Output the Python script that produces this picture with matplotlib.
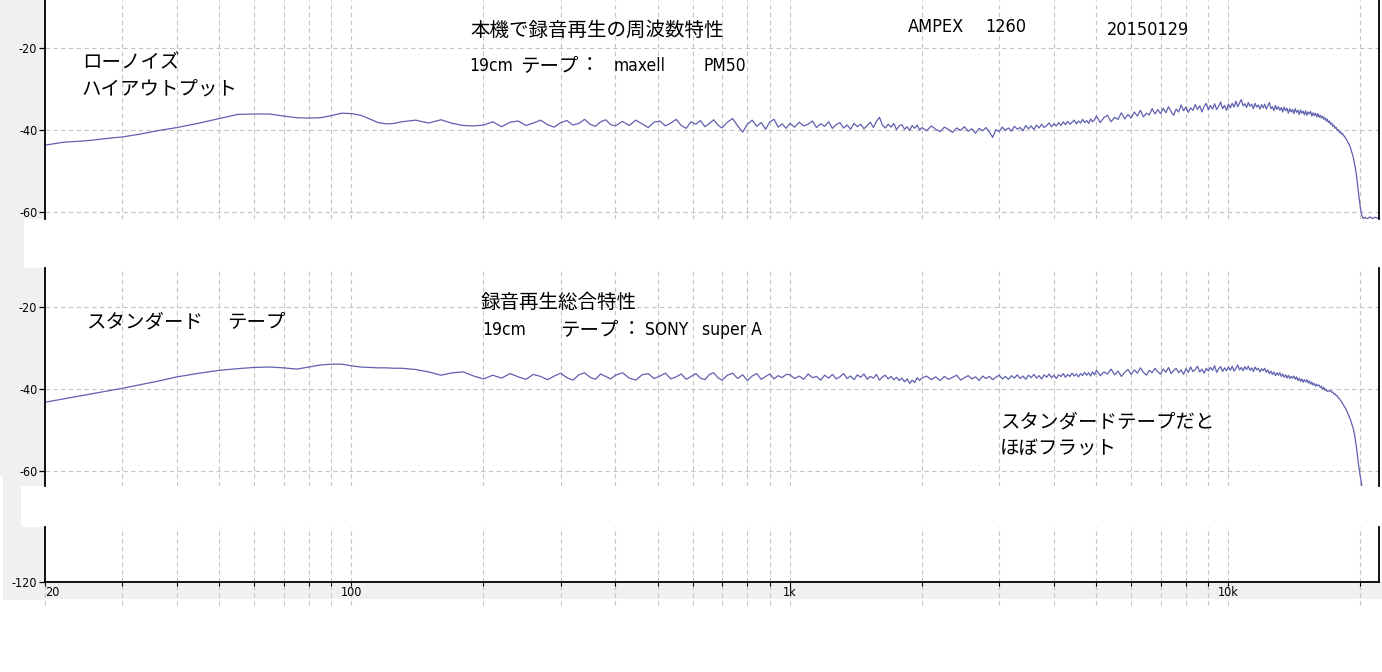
import matplotlib
matplotlib.use("Agg")
import matplotlib.pyplot as plt
from matplotlib.patches import Rectangle
from matplotlib.ticker import FixedLocator, NullFormatter
from matplotlib import font_manager as fm

plt.rcParams["axes.unicode_minus"] = False

# ---------------- data ----------------
freq_a = [20, 22, 25, 28, 30, 33, 36, 40, 45, 50, 55, 60, 65, 70, 75, 80, 85, 90, 95, 100,
          105, 110, 115, 120, 125, 130, 140, 150, 160, 170, 180, 190]
pm50_a = [-43.7, -43.0, -42.6, -42.0, -41.7, -41.0, -40.2, -39.4, -38.3, -37.2,
          -36.2, -36.1, -36.1, -36.6, -37.0, -37.1, -37.0, -36.5, -35.9, -36.0,
          -36.4, -37.3, -38.2, -38.5, -38.4, -38.0, -37.6, -38.3, -37.5, -38.4, -38.9, -39.0]
superA_a = [-43.2, -42.4, -41.3, -40.4, -39.8, -38.9, -38.1, -37.0, -36.1, -35.4,
            -35.0, -34.7, -34.6, -34.8, -35.1, -34.6, -34.1, -33.9, -33.9, -34.3,
            -34.6, -34.7, -34.8, -34.8, -34.9, -34.9, -35.2, -35.8, -36.6, -36.0, -35.8, -36.8]

freq_b = [200, 210, 220, 230, 240, 250, 260, 270, 280, 290, 300, 310, 320, 330, 340, 350,
          360, 370, 380, 390, 400, 415, 430, 445, 460, 475, 490, 505, 520, 535, 550, 565,
          580, 595, 610, 625, 640, 655, 670, 685, 700, 720, 740, 760, 780, 800, 820, 840,
          860, 880, 900, 920, 940, 960, 980]
pm50_b = [-38.8, -38.0, -39.2, -38.1, -37.8, -38.9, -38.3, -37.6, -38.7, -39.3,
          -38.2, -37.7, -38.8, -38.4, -37.4, -38.6, -39.1, -38.0, -37.5, -38.7,
          -39.0, -37.9, -38.9, -37.6, -38.5, -39.4, -38.1, -37.8, -39.0, -38.3,
          -37.4, -38.9, -39.6, -38.0, -38.6, -37.7, -39.2, -38.4, -37.5, -38.8,
          -39.5, -38.1, -37.2, -39.0, -40.5, -38.6, -37.6, -39.1, -38.2, -39.8,
          -38.0, -37.4, -39.3, -38.5, -39.6]
superA_b = [-37.5, -36.6, -37.3, -36.2, -37.0, -37.6, -36.4, -36.9, -37.7, -36.8,
            -36.1, -37.2, -37.8, -36.5, -36.0, -37.1, -37.6, -36.3, -36.9, -37.5,
            -36.6, -36.0, -37.3, -37.8, -36.5, -36.2, -37.4, -36.8, -36.1, -37.5,
            -37.0, -36.3, -37.6, -36.9, -36.2, -37.3, -37.7, -36.4, -36.0, -37.2,
            -37.8, -36.6, -36.1, -37.4, -36.5, -37.9, -36.8, -36.2, -37.6, -36.9,
            -36.3, -37.5, -36.7, -37.2, -36.4]

freq_c = [1000, 1025, 1050, 1075, 1100, 1125, 1150, 1175, 1200, 1225,
          1250, 1275, 1300, 1325, 1350, 1375, 1400, 1425, 1450, 1475,
          1500, 1525, 1550, 1575, 1600, 1625, 1650, 1675, 1700, 1725,
          1750, 1775, 1800, 1825, 1850, 1875, 1900, 1925, 1950, 1975,
          2000, 2050, 2100, 2150, 2200, 2250, 2300, 2350, 2400, 2450,
          2500, 2550, 2600, 2650, 2700, 2750, 2800, 2850, 2900, 2950,
          3000, 3050, 3100, 3150, 3200, 3250, 3300, 3350, 3400, 3450,
          3500, 3550, 3600, 3650, 3700, 3750, 3800, 3850, 3900, 3950,
          4000, 4050, 4100, 4150, 4200, 4250, 4300, 4350, 4400, 4450,
          4500, 4550, 4600, 4650, 4700, 4750, 4800, 4850, 4900, 4950]
pm50_c = [-38.4, -39.3, -38.1, -39.0, -38.6, -37.8, -39.4, -38.5, -39.1, -38.0,
          -39.6, -38.7, -38.2, -39.5, -38.8, -39.8, -38.4, -39.2, -38.6, -39.7,
          -38.9, -38.1, -39.4, -37.9, -36.9, -38.8, -39.5, -38.6, -39.3, -38.4,
          -39.9, -39.0, -38.7, -39.8, -39.2, -40.1, -38.9, -39.6, -38.8, -40.0,
          -39.4, -40.2, -39.0, -39.8, -40.4, -39.3, -39.9, -40.6, -39.5, -40.1,
          -39.2, -40.3, -39.7, -40.8, -39.6, -40.2, -39.4, -40.5, -41.8, -39.9,
          -40.4, -39.3, -40.1, -39.5, -40.3, -39.1, -39.8, -39.4, -40.2, -38.9,
          -39.7, -39.0, -39.9, -38.8, -39.5, -38.6, -39.4, -38.9, -38.3, -39.2,
          -38.5, -39.0, -38.2, -38.9, -38.0, -38.7, -37.9, -38.6, -38.1, -37.6,
          -38.5, -37.8, -38.3, -37.4, -38.2, -37.7, -38.4, -37.3, -38.0, -37.5]
superA_c = [-36.5, -37.4, -36.8, -37.6, -36.3, -37.2, -36.9, -37.8, -36.6, -37.3,
            -36.4, -37.5, -37.0, -36.2, -37.4, -36.8, -37.7, -36.5, -37.1, -36.3,
            -37.6, -36.9, -37.3, -36.4, -37.8, -37.0, -36.6, -37.5, -36.9, -37.7,
            -37.1, -37.9, -37.3, -38.2, -37.5, -38.6, -37.8, -38.4, -37.2, -37.9,
            -37.3, -36.8, -37.7, -37.0, -37.9, -36.9, -37.6, -37.1, -36.6, -37.8,
            -37.2, -36.7, -37.5, -37.0, -37.9, -36.8, -37.4, -36.9, -37.7, -37.1,
            -36.6, -37.5, -36.9, -37.6, -36.7, -37.3, -36.5, -37.4, -36.8, -37.6,
            -36.6, -37.2, -36.4, -37.3, -36.7, -37.5, -36.5, -37.1, -36.3, -37.2,
            -36.6, -37.4, -36.5, -36.9, -36.2, -37.1, -36.4, -36.9, -36.1, -36.8,
            -36.3, -37.0, -36.2, -36.7, -35.9, -36.6, -36.0, -36.8, -35.8, -36.5]

freq_d = [5000, 5100, 5200, 5300, 5400, 5500, 5600, 5700, 5800, 5900,
          6000, 6100, 6200, 6300, 6400, 6500, 6600, 6700, 6800, 6900,
          7000, 7100, 7200, 7300, 7400, 7500, 7600, 7700, 7800, 7900,
          8000, 8100, 8200, 8300, 8400, 8500, 8600, 8700, 8800, 8900,
          9000, 9100, 9200, 9300, 9400, 9500, 9600, 9700, 9800, 9900,
          10000, 10100, 10200, 10300, 10400, 10500, 10600, 10700, 10800, 10900,
          11000, 11100, 11200, 11300, 11400, 11500, 11600, 11700, 11800, 11900,
          12000, 12100, 12200, 12300, 12400, 12500, 12600, 12700, 12800, 12900,
          13000, 13100, 13200, 13300, 13400, 13500, 13600, 13700, 13800, 13900,
          14000, 14100, 14200, 14300, 14400, 14500, 14600, 14700, 14800, 14900,
          15000, 15100, 15200, 15300, 15400, 15500, 15600, 15700, 15800, 15900,
          16000, 16100, 16200, 16300, 16400, 16500, 16600, 16700, 16800, 16900,
          17000, 17100, 17200, 17300, 17400, 17500, 17600, 17700, 17800, 17900,
          18000, 18100, 18200, 18300, 18400, 18500, 18600, 18700, 18800, 18900,
          19000, 19100, 19200, 19300, 19400, 19500, 19600, 19700, 19800, 19900]
pm50_d = [-36.6, -38.2, -37.0, -36.4, -38.0, -36.9, -37.4, -35.8, -37.3, -36.2,
          -37.1, -35.6, -36.6, -35.2, -36.8, -35.9, -36.3, -34.8, -36.1, -35.0,
          -36.0, -34.7, -35.8, -34.3, -35.5, -36.4, -34.9, -35.6, -33.9, -35.3,
          -34.4, -35.7, -34.6, -35.2, -33.8, -35.0, -34.1, -35.6, -34.3, -33.5,
          -35.1, -34.0, -34.9, -33.6, -35.0, -34.2, -33.2, -34.8, -34.0, -35.2,
          -33.7, -34.6, -33.5, -34.4, -33.0, -34.3, -33.4, -32.6, -34.1, -33.6,
          -34.5, -33.3, -34.2, -33.7, -34.8, -33.5, -34.4, -33.9, -34.9, -33.8,
          -34.6, -33.7, -34.9, -34.1, -33.3, -34.8, -34.3, -35.3, -34.0, -35.0,
          -34.3, -35.2, -34.5, -35.6, -34.4, -35.3, -34.7, -35.9, -34.8, -35.6,
          -35.0, -36.0, -34.8, -35.7, -35.2, -36.2, -35.1, -35.9, -35.4, -36.3,
          -35.3, -36.4, -35.6, -36.1, -35.5, -36.6, -35.8, -36.5, -35.9, -36.8,
          -36.0, -36.9, -36.4, -37.1, -36.6, -37.4, -37.0, -37.8, -37.3, -38.2,
          -37.8, -38.6, -38.3, -39.1, -38.8, -39.6, -39.3, -40.1, -39.9, -40.6,
          -40.4, -41.0, -40.8, -41.4, -41.5, -42.1, -42.3, -42.9, -43.3, -43.8,
          -44.5, -45.3, -46.1, -47.1, -48.3, -49.6, -51.3, -53.2, -55.3, -57.3]
superA_d = [-35.4, -36.7, -35.8, -36.3, -35.1, -36.5, -35.6, -36.9, -35.9, -35.2,
            -36.4, -35.3, -36.1, -34.8, -35.9, -36.6, -35.4, -36.0, -34.9, -35.8,
            -36.3, -35.1, -35.9, -34.7, -36.2, -35.5, -34.9, -36.0, -35.3, -36.4,
            -35.0, -35.9, -34.6, -35.7, -35.2, -34.4, -35.8, -35.1, -36.1, -34.9,
            -35.6, -34.7, -35.4, -34.3, -35.9, -35.0, -34.5, -35.7, -34.8, -35.5,
            -34.6, -35.4, -34.4, -35.6, -34.9, -34.1, -35.3, -34.7, -35.5, -34.5,
            -35.2, -34.4, -35.4, -34.8, -35.7, -34.6, -35.3, -34.9, -35.8, -35.0,
            -35.5, -34.9, -35.9, -35.3, -36.2, -35.6, -36.4, -35.8, -36.7, -36.0,
            -36.6, -36.0, -36.9, -36.3, -37.1, -36.5, -37.3, -36.6, -37.4, -36.9,
            -37.3, -36.8, -37.6, -37.0, -37.9, -37.3, -38.1, -37.5, -38.3, -37.7,
            -38.2, -37.7, -38.5, -38.0, -38.8, -38.3, -39.0, -38.6, -39.3, -38.8,
            -39.2, -39.0, -39.6, -39.3, -40.0, -39.6, -40.3, -40.0, -40.6, -40.4,
            -40.5, -40.3, -40.8, -40.7, -41.2, -41.1, -41.6, -41.6, -42.1, -42.3,
            -42.7, -43.0, -43.5, -43.9, -44.3, -44.7, -45.3, -45.8, -46.4, -47.0,
            -47.6, -48.4, -49.2, -50.0, -51.2, -52.8, -54.5, -56.5, -58.4, -60.1]

freq_e = [20000, 20100, 20200, 20300, 20500, 20700, 21000, 21300, 21600, 22000]
pm50_e = [-59.0, -60.4, -61.1, -61.6, -61.3, -61.7, -61.2, -61.6, -61.3, -61.5]
superA_e = [-61.6, -62.9, -64.2, -65.0, -66.0, -66.3, -66.5, -66.4, -66.6, -66.5]

grid_freqs = [20, 30, 40, 50, 60, 70, 80, 90, 100, 200, 300, 400, 500, 600, 700, 800, 900,
              1000, 2000, 3000, 4000, 5000, 6000, 7000, 8000, 9000, 10000, 20000]
x_label_freqs = [20, 100, 1000, 10000]
x_labels = ["20", "100", "1k", "10k"]
y_ticks_upper = [-20, -40, -60]
y_labels_upper = ["-20", "-40", "-60"]
y_ticks_lower = [-120]
y_labels_lower = ["-120"]

freq_hz = freq_a + freq_b + freq_c + freq_d + freq_e
pm50_db = pm50_a + pm50_b + pm50_c + pm50_d + pm50_e
superA_db = superA_a + superA_b + superA_c + superA_d + superA_e
if not (len(freq_hz) == len(pm50_db) == len(superA_db)):
    raise SystemExit(f"length mismatch {len(freq_hz)} {len(pm50_db)} {len(superA_db)}")

# ---------------- styling ----------------
W, H = 1382, 672
GRAY_BG = "#f0f0f0"
GRID = "#c4c4c4"
LINE = "#6060b0"
JP = ["Noto Sans CJK JP", "DejaVu Sans"]


def narrow_props(size):
    cands = []
    for f in fm.fontManager.ttflist:
        fn = f.fname
        if ("Narrow" in fn or "Condensed" in fn) and not any(
                k in fn for k in ("Bold", "Oblique", "Italic", "Light", "Black", "Thin", "Medium", "Semi", "Extra")):
            cands.append(fn)
    if cands:
        pref = sorted(cands, key=lambda p: (0 if "Liberation" in p else 1 if "DejaVuSans" in p else 2, p))
        return fm.FontProperties(fname=pref[0], size=size)
    return fm.FontProperties(family="Liberation Sans", size=size * 0.92)


fig = plt.figure(figsize=(W / 100, H / 100), dpi=100)
fig.patch.set_facecolor("white")


def rect(x0, y0, x1, y1):
    return [x0 / W, 1 - y1 / H, (x1 - x0) / W, (y1 - y0) / H]


def fpt(x, y):
    return x / W, 1 - y / H


# background strips and cover boxes (figure level)
for (x0, y0, x1, y1, c, z) in [
    (0, 0, 45, 600, GRAY_BG, -3),
    (0, 582, 1382, 599, GRAY_BG, -3),
    (24, 219, 1382, 268, "white", -2),
    (21, 486, 1382, 527, "white", -2),
    (0, 476, 3, 672, "white", -2),
]:
    fig.add_artist(Rectangle(fpt(x0, y1), (x1 - x0) / W, (y1 - y0) / H,
                             transform=fig.transFigure, facecolor=c, edgecolor="none", zorder=z))

ax_top = fig.add_axes(rect(45, 0, 1379, 219))
ax_b1 = fig.add_axes(rect(45, 268, 1379, 486))
ax_b2 = fig.add_axes(rect(45, 527, 1379, 582))

tick_fp = narrow_props(9)
XLIM = (20, 22050)
setups = [
    (ax_top, (-61.71, -8.29), y_ticks_upper, y_labels_upper, False),
    (ax_b1, (-63.66, -10.41), y_ticks_upper, y_labels_upper, False),
    (ax_b2, (-120, -106.6), y_ticks_lower, y_labels_lower, True),
]
for ax, ylim, yt, yl, has_bottom in setups:
    ax.set_xscale("log")
    ax.set_xlim(*XLIM)
    ax.set_ylim(*ylim)
    ax.set_facecolor("white")
    ax.spines["top"].set_visible(False)
    ax.spines["bottom"].set_visible(has_bottom)
    for s in ("left", "right", "bottom"):
        ax.spines[s].set_linewidth(1.3)
        ax.spines[s].set_color("black")
    ax.xaxis.set_major_locator(FixedLocator(grid_freqs))
    ax.xaxis.set_minor_locator(FixedLocator([]))
    ax.xaxis.set_major_formatter(NullFormatter())
    ax.xaxis.set_minor_formatter(NullFormatter())
    ax.tick_params(axis="x", which="both", direction="out", length=3 if has_bottom else 0,
                   width=0.8, colors="black")
    ax.set_yticks(yt)
    ax.set_yticklabels(yl)
    ax.tick_params(axis="y", direction="out", length=4.5, width=0.9, pad=1)
    for lab in ax.get_yticklabels():
        lab.set_fontproperties(tick_fp)
    ax.grid(True, axis="both", color=GRID, linestyle=(0, (4, 3)), linewidth=0.8)
    ax.set_axisbelow(True)

ax_top.plot(freq_hz, pm50_db, color=LINE, linewidth=0.9)
ax_b1.plot(freq_hz, superA_db, color=LINE, linewidth=0.9)

# grid lines continue a little below the frequency axis, as in the screenshot
for f in grid_freqs:
    ax_b2.axvline(f, ymin=-0.42, ymax=0, clip_on=False, color=GRID,
                  linestyle=(0, (4, 3)), linewidth=0.8, zorder=0.5)

# x tick labels on the bottom axes
for f, lab in zip(x_label_freqs, x_labels):
    ax_b2.text(f, -0.07, lab, transform=ax_b2.get_xaxis_transform(),
               ha="left" if f == 20 else "center", va="top", fontproperties=tick_fp)

# ---------------- annotations ----------------
jp_texts = [
    ("本機で録音再生の周波数特性", 470, 30, "left"),
    ("テープ", 520, 66, "left"), ("：", 589, 66, "center"),
    ("ローノイズ", 82, 63, "left"), ("ハイアウトプット", 82, 89, "left"),
    ("スタンダード", 86, 322, "left"), ("テープ", 227, 322, "left"),
    ("録音再生総合特性", 481, 302, "left"),
    ("テープ", 560, 330, "left"), ("：", 632, 330, "center"),
    ("スタンダードテープだと", 1000, 422, "left"), ("ほぼフラット", 1000, 449, "left"),
]
for s, x, y, ha in jp_texts:
    fig.text(*fpt(x, y), s, ha=ha, va="center", fontsize=14, family=JP, color="black")

small_fp = narrow_props(12.5)
head_fp = narrow_props(13)
latin_texts = [
    ("19cm", 469, 66, small_fp, "left"), ("maxell", 640, 66, small_fp, "center"),
    ("PM50", 704, 66, small_fp, "left"),
    ("19cm", 482, 330, small_fp, "left"), ("SONY", 645, 330, small_fp, "left"),
    ("super A", 702, 330, small_fp, "left"),
    ("AMPEX", 908, 27, head_fp, "left"), ("1260", 985, 27, head_fp, "left"),
    ("20150129", 1107, 30, head_fp, "left"),
]
for s, x, y, fp, ha in latin_texts:
    fig.text(*fpt(x, y), s, ha=ha, va="center", fontproperties=fp, color="black")

fig.savefig("out.png", dpi=100, facecolor="white")
